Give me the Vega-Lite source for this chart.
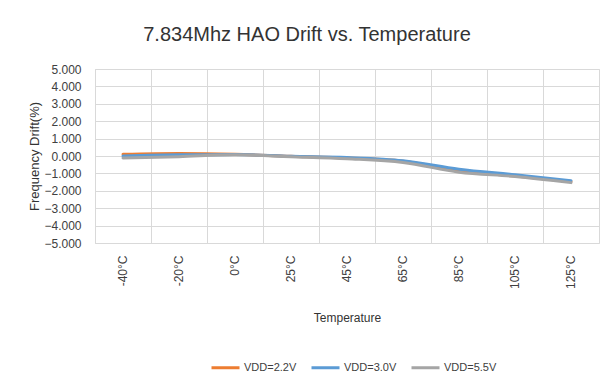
{
  "$schema": "https://vega.github.io/schema/vega-lite/v6.json",
  "autosize": {"type": "none"},
  "width": 504,
  "height": 174,
  "padding": {"left": 95, "top": 69, "right": 12, "bottom": 140},
  "background": "white",
  "title": {
    "text": "7.834Mhz HAO Drift vs. Temperature",
    "font": "Liberation Sans",
    "fontSize": 20,
    "fontWeight": "normal",
    "color": "#333333",
    "anchor": "middle",
    "dx": -40,
    "offset": 18
  },
  "config": {
    "view": {"stroke": "#D9D9D9", "strokeWidth": 1},
    "font": "Liberation Sans"
  },
  "data": {
    "values": [
      {"temp": "-40°C", "series": "VDD=2.2V", "drift": 0.10},
      {"temp": "-20°C", "series": "VDD=2.2V", "drift": 0.15},
      {"temp": "0°C", "series": "VDD=2.2V", "drift": 0.10},
      {"temp": "25°C", "series": "VDD=2.2V", "drift": -0.02},
      {"temp": "45°C", "series": "VDD=2.2V", "drift": -0.12},
      {"temp": "65°C", "series": "VDD=2.2V", "drift": -0.30},
      {"temp": "85°C", "series": "VDD=2.2V", "drift": -0.85},
      {"temp": "105°C", "series": "VDD=2.2V", "drift": -1.15},
      {"temp": "125°C", "series": "VDD=2.2V", "drift": -1.47},
      {"temp": "-40°C", "series": "VDD=3.0V", "drift": 0.00},
      {"temp": "-20°C", "series": "VDD=3.0V", "drift": 0.07},
      {"temp": "0°C", "series": "VDD=3.0V", "drift": 0.08},
      {"temp": "25°C", "series": "VDD=3.0V", "drift": -0.02},
      {"temp": "45°C", "series": "VDD=3.0V", "drift": -0.09},
      {"temp": "65°C", "series": "VDD=3.0V", "drift": -0.27},
      {"temp": "85°C", "series": "VDD=3.0V", "drift": -0.76},
      {"temp": "105°C", "series": "VDD=3.0V", "drift": -1.08},
      {"temp": "125°C", "series": "VDD=3.0V", "drift": -1.42},
      {"temp": "-40°C", "series": "VDD=5.5V", "drift": -0.12},
      {"temp": "-20°C", "series": "VDD=5.5V", "drift": -0.04},
      {"temp": "0°C", "series": "VDD=5.5V", "drift": 0.07},
      {"temp": "25°C", "series": "VDD=5.5V", "drift": -0.04},
      {"temp": "45°C", "series": "VDD=5.5V", "drift": -0.16},
      {"temp": "65°C", "series": "VDD=5.5V", "drift": -0.37},
      {"temp": "85°C", "series": "VDD=5.5V", "drift": -0.93},
      {"temp": "105°C", "series": "VDD=5.5V", "drift": -1.18},
      {"temp": "125°C", "series": "VDD=5.5V", "drift": -1.53}
    ]
  },
  "mark": {"type": "line", "strokeWidth": 3, "interpolate": "monotone", "strokeCap": "round"},
  "encoding": {
    "x": {
      "field": "temp",
      "type": "ordinal",
      "sort": ["-40°C", "-20°C", "0°C", "25°C", "45°C", "65°C", "85°C", "105°C", "125°C"],
      "scale": {"type": "band", "paddingInner": 0, "paddingOuter": 0},
      "axis": {
        "title": "Temperature",
        "titleFontSize": 12,
        "titleFontWeight": "normal",
        "titleColor": "#333333",
        "titlePadding": 24,
        "labelAngle": 270,
        "labelFontSize": 12,
        "labelColor": "#404040",
        "labelPadding": 12,
        "ticks": false,
        "domain": false,
        "grid": true,
        "gridColor": "#D9D9D9",
        "bandPosition": 0
      }
    },
    "y": {
      "field": "drift",
      "type": "quantitative",
      "scale": {"domain": [-5, 5], "nice": false},
      "axis": {
        "title": "Frequency Drift(%)",
        "titleFontSize": 13,
        "titleFontWeight": "normal",
        "titleColor": "#333333",
        "titlePadding": 2,
        "format": ".3f",
        "values": [-5, -4, -3, -2, -1, 0, 1, 2, 3, 4, 5],
        "labelFontSize": 12,
        "labelColor": "#404040",
        "labelPadding": 14,
        "ticks": false,
        "domain": false,
        "gridColor": "#D9D9D9"
      }
    },
    "color": {
      "field": "series",
      "type": "nominal",
      "scale": {"domain": ["VDD=2.2V", "VDD=3.0V", "VDD=5.5V"], "range": ["#ED7D31", "#5B9BD5", "#A5A5A5"]},
      "legend": {
        "title": null,
        "orient": "none",
        "direction": "horizontal",
        "legendX": 115,
        "legendY": 283,
        "symbolType": "stroke",
        "symbolStrokeWidth": 3,
        "symbolSize": 784,
        "labelFontSize": 11,
        "labelColor": "#404040",
        "columnPadding": 8,
        "labelOffset": 3
      }
    },
    "order": {"field": "series"}
  }
}
